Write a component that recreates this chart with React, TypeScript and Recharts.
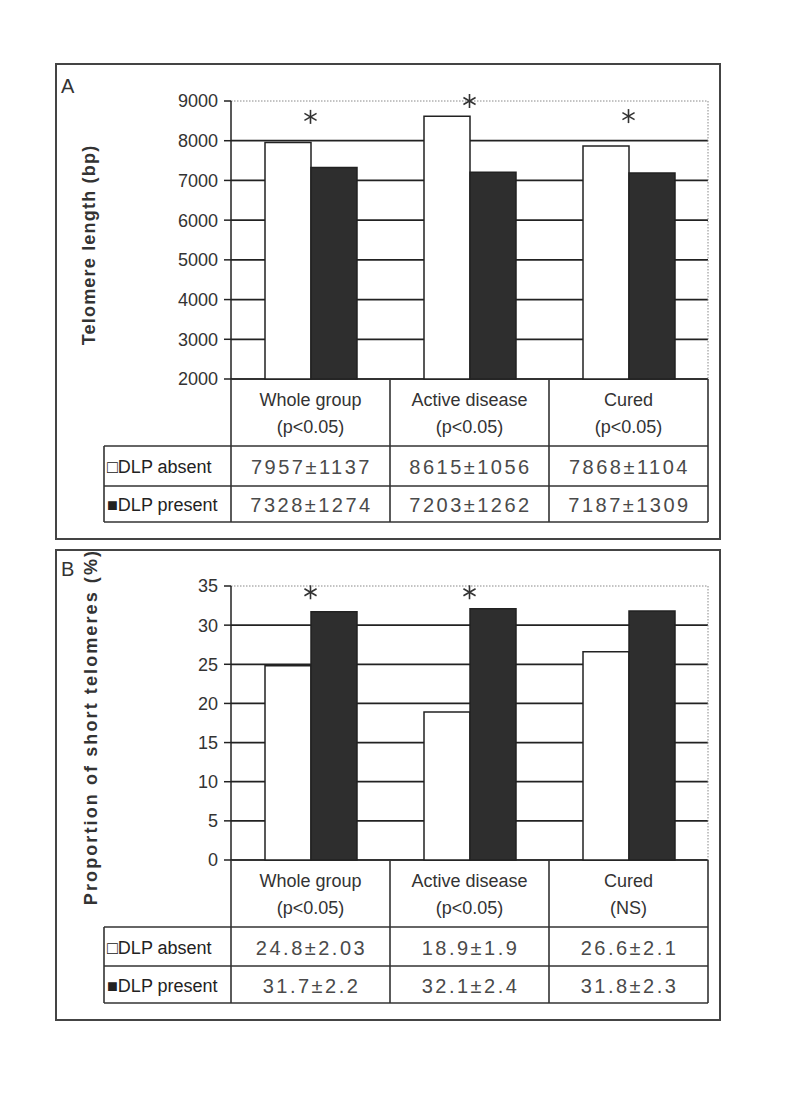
import React from 'react';
import { ComposedChart, Bar, Scatter, XAxis, YAxis, ReferenceLine, CartesianGrid } from 'recharts';

// ---- data ----
const groups = ['Whole group', 'Active disease', 'Cured'];
const pLabelsA = ['(p<0.05)', '(p<0.05)', '(p<0.05)'];
const pLabelsB = ['(p<0.05)', '(p<0.05)', '(NS)'];

const absentA = [7957, 8615, 7868];
const absentSdA = [1137, 1056, 1104];
const presentA = [7328, 7203, 7187];
const presentSdA = [1274, 1262, 1309];
const sigA: (number | null)[] = [8600, 9000, 8620];
const ticksA = [2000, 3000, 4000, 5000, 6000, 7000, 8000, 9000];

const absentB = [24.8, 18.9, 26.6];
const absentSdB = [2.03, 1.9, 2.1];
const presentB = [31.7, 32.1, 31.8];
const presentSdB = [2.2, 2.4, 2.3];
const sigB: (number | null)[] = [34.2, 34.2, null];
const ticksB = [0, 5, 10, 15, 20, 25, 30, 35];

const rowLabels = ['\u25A1DLP absent', '\u25A0DLP present'];

// ---- layout ----
const W = 787;
const H = 1102;
const PLOT_L = 231;
const PLOT_R = 708;
const LABEL_L = 104;
const BOX_L = 56;
const BOX_R = 720;
const FONT = '"Liberation Sans", Arial, sans-serif';
const YAXIS_W = 60;

const Asterisk = (p: any) => {
  const { cx, cy, payload } = p;
  if (!payload || payload.sig == null || !isFinite(cx) || !isFinite(cy)) return <g />;
  const r = 7;
  return (
    <g>
      {[90, 30, 150].map((a) => {
        const rad = (a * Math.PI) / 180;
        return (
          <line
            key={a}
            x1={cx - r * Math.cos(rad)}
            y1={cy - r * Math.sin(rad)}
            x2={cx + r * Math.cos(rad)}
            y2={cy + r * Math.sin(rad)}
            stroke="#333"
            strokeWidth={1.6}
          />
        );
      })}
    </g>
  );
};

type PanelProps = {
  letter: string;
  letterBaseline: number;
  boxTop: number;
  boxBottom: number;
  plotTop: number;
  plotBottom: number;
  headerBottom: number;
  row1Bottom: number;
  tableBottom: number;
  title: string;
  titleSize: number;
  titleSpacing: number;
  titleCx: number;
  titleCy: number;
  absent: number[];
  absentSd: number[];
  present: number[];
  presentSd: number[];
  pLabels: string[];
  sig: (number | null)[];
  ticks: number[];
};

function Panel(props: PanelProps) {
  const {
    letter, letterBaseline, boxTop, boxBottom, plotTop, plotBottom, headerBottom, row1Bottom,
    tableBottom, title, titleSize, titleSpacing, titleCx, titleCy, absent, absentSd, present,
    presentSd, pLabels, sig, ticks,
  } = props;
  const data = groups.map((g, i) => ({ name: g, absent: absent[i], present: present[i], sig: sig[i] }));
  const yMin = ticks[0];
  const yMax = ticks[ticks.length - 1];
  const colW = (PLOT_R - PLOT_L) / groups.length;
  const chartH = plotBottom - boxTop + 10;
  const inner = ticks.slice(1, -1);

  const gridGen = (arg: any) => {
    const ya = arg && arg.yAxis;
    if (ya && typeof ya.scale === 'function') {
      return inner.map((t) => ya.scale(t));
    }
    const off = arg.offset;
    return inner.map((t) => off.top + (off.height * (yMax - t)) / (yMax - yMin));
  };

  const rowsText = [
    absent.map((v, i) => `${v}\u00B1${absentSd[i]}`),
    present.map((v, i) => `${v}\u00B1${presentSd[i]}`),
  ];
  const rowBounds = [
    [headerBottom, row1Bottom],
    [row1Bottom, tableBottom],
  ];
  const headerMid = (plotBottom + headerBottom) / 2;
  const lc = '#333';

  return (
    <>
      <svg style={{ position: 'absolute', left: 0, top: 0 }} width={W} height={H}>
        <rect x={BOX_L} y={boxTop} width={BOX_R - BOX_L} height={boxBottom - boxTop} fill="none" stroke="#444" strokeWidth={2} />
        <text x={61} y={letterBaseline} fontFamily={FONT} fontSize={20} fill="#333">{letter}</text>
        <text
          x={titleCx}
          y={titleCy}
          transform={`rotate(-90 ${titleCx} ${titleCy})`}
          textAnchor="middle"
          dominantBaseline="central"
          fontFamily={FONT}
          fontWeight="bold"
          fontSize={titleSize}
          letterSpacing={titleSpacing}
          fill="#333"
        >
          {title}
        </text>
        {/* table lines */}
        <line x1={PLOT_L} y1={plotBottom} x2={PLOT_R} y2={plotBottom} stroke={lc} strokeWidth={1.8} />
        {[headerBottom, row1Bottom, tableBottom].map((y) => (
          <line key={y} x1={LABEL_L} y1={y} x2={PLOT_R} y2={y} stroke={lc} strokeWidth={1.6} />
        ))}
        <line x1={LABEL_L} y1={headerBottom} x2={LABEL_L} y2={tableBottom} stroke={lc} strokeWidth={1.6} />
        {groups.map((_, i) => (
          <line key={'v' + i} x1={PLOT_L + (i + 1) * colW} y1={plotBottom} x2={PLOT_L + (i + 1) * colW} y2={tableBottom} stroke={lc} strokeWidth={1.6} />
        ))}
        <line x1={PLOT_L} y1={plotBottom} x2={PLOT_L} y2={tableBottom} stroke={lc} strokeWidth={1.6} />
        {/* header text */}
        {groups.map((g, i) => (
          <g key={'h' + i}>
            <text x={PLOT_L + (i + 0.5) * colW} y={headerMid - 13} textAnchor="middle" dominantBaseline="central" fontFamily={FONT} fontSize={18} fill="#333">{g}</text>
            <text x={PLOT_L + (i + 0.5) * colW} y={headerMid + 14} textAnchor="middle" dominantBaseline="central" fontFamily={FONT} fontSize={18} fill="#333">{pLabels[i]}</text>
          </g>
        ))}
        {rowsText.map((row, r) => (
          <g key={'r' + r}>
            <text x={LABEL_L + 3} y={(rowBounds[r][0] + rowBounds[r][1]) / 2 + 1} dominantBaseline="central" fontFamily={FONT} fontSize={18} fill="#222">{rowLabels[r]}</text>
            {row.map((t, i) => (
              <text key={i} x={PLOT_L + (i + 0.5) * colW + 1} y={(rowBounds[r][0] + rowBounds[r][1]) / 2 + 1} textAnchor="middle" dominantBaseline="central" fontFamily={FONT} fontSize={20} letterSpacing={2.5} fill="#4a4a4a">{t}</text>
            ))}
          </g>
        ))}
      </svg>
      <div style={{ position: 'absolute', left: 0, top: boxTop }}>
        <ComposedChart
          width={W}
          height={chartH}
          data={data}
          margin={{ top: plotTop - boxTop, bottom: 10, left: PLOT_L - YAXIS_W, right: W - PLOT_R - 1 }}
          barGap={0}
          barSize={46}
        >
          <CartesianGrid yAxisId="l" vertical={false} stroke="#222" strokeWidth={1.8} horizontalCoordinatesGenerator={gridGen} />
          <XAxis dataKey="name" hide />
          <YAxis
            yAxisId="l"
            domain={[yMin, yMax]}
            ticks={ticks}
            interval={0}
            width={YAXIS_W}
            tickSize={7}
            tickMargin={6}
            axisLine={{ stroke: '#222', strokeWidth: 1.5 }}
            tickLine={{ stroke: '#222', strokeWidth: 1.5 }}
            tick={{ fontSize: 18, fill: '#333', fontFamily: FONT }}
          />
          <YAxis
            yAxisId="r"
            orientation="right"
            domain={[yMin, yMax]}
            width={1}
            tick={false}
            tickLine={false}
            axisLine={{ stroke: '#888', strokeDasharray: '1.5 1.5' }}
          />
          <ReferenceLine yAxisId="l" y={yMax} stroke="#888" strokeDasharray="1.5 1.5" />
          <Bar yAxisId="l" dataKey="absent" fill="#ffffff" stroke="#222" strokeWidth={1.5} isAnimationActive={false} />
          <Bar yAxisId="l" dataKey="present" fill="#2e2e2e" stroke="#222" strokeWidth={1.5} isAnimationActive={false} />
          <Scatter yAxisId="l" dataKey="sig" shape={Asterisk} isAnimationActive={false} />
        </ComposedChart>
      </div>
    </>
  );
}

export default function App() {
  return (
    <div style={{ position: 'absolute', left: 0, top: 0, width: W, height: H, background: '#fff' }}>
      <Panel
        letter="A"
        letterBaseline={93}
        boxTop={64}
        boxBottom={539}
        plotTop={101}
        plotBottom={379}
        headerBottom={446}
        row1Bottom={486}
        tableBottom={522}
        title="Telomere length (bp)"
        titleSize={18}
        titleSpacing={1.2}
        titleCx={89}
        titleCy={245}
        absent={absentA}
        absentSd={absentSdA}
        present={presentA}
        presentSd={presentSdA}
        pLabels={pLabelsA}
        sig={sigA}
        ticks={ticksA}
      />
      <Panel
        letter="B"
        letterBaseline={576}
        boxTop={550}
        boxBottom={1020}
        plotTop={586}
        plotBottom={860}
        headerBottom={927}
        row1Bottom={966}
        tableBottom={1003}
        title="Proportion of short telomeres (%)"
        titleSize={18}
        titleSpacing={2.1}
        titleCx={91}
        titleCy={727}
        absent={absentB}
        absentSd={absentSdB}
        present={presentB}
        presentSd={presentSdB}
        pLabels={pLabelsB}
        sig={sigB}
        ticks={ticksB}
      />
    </div>
  );
}
